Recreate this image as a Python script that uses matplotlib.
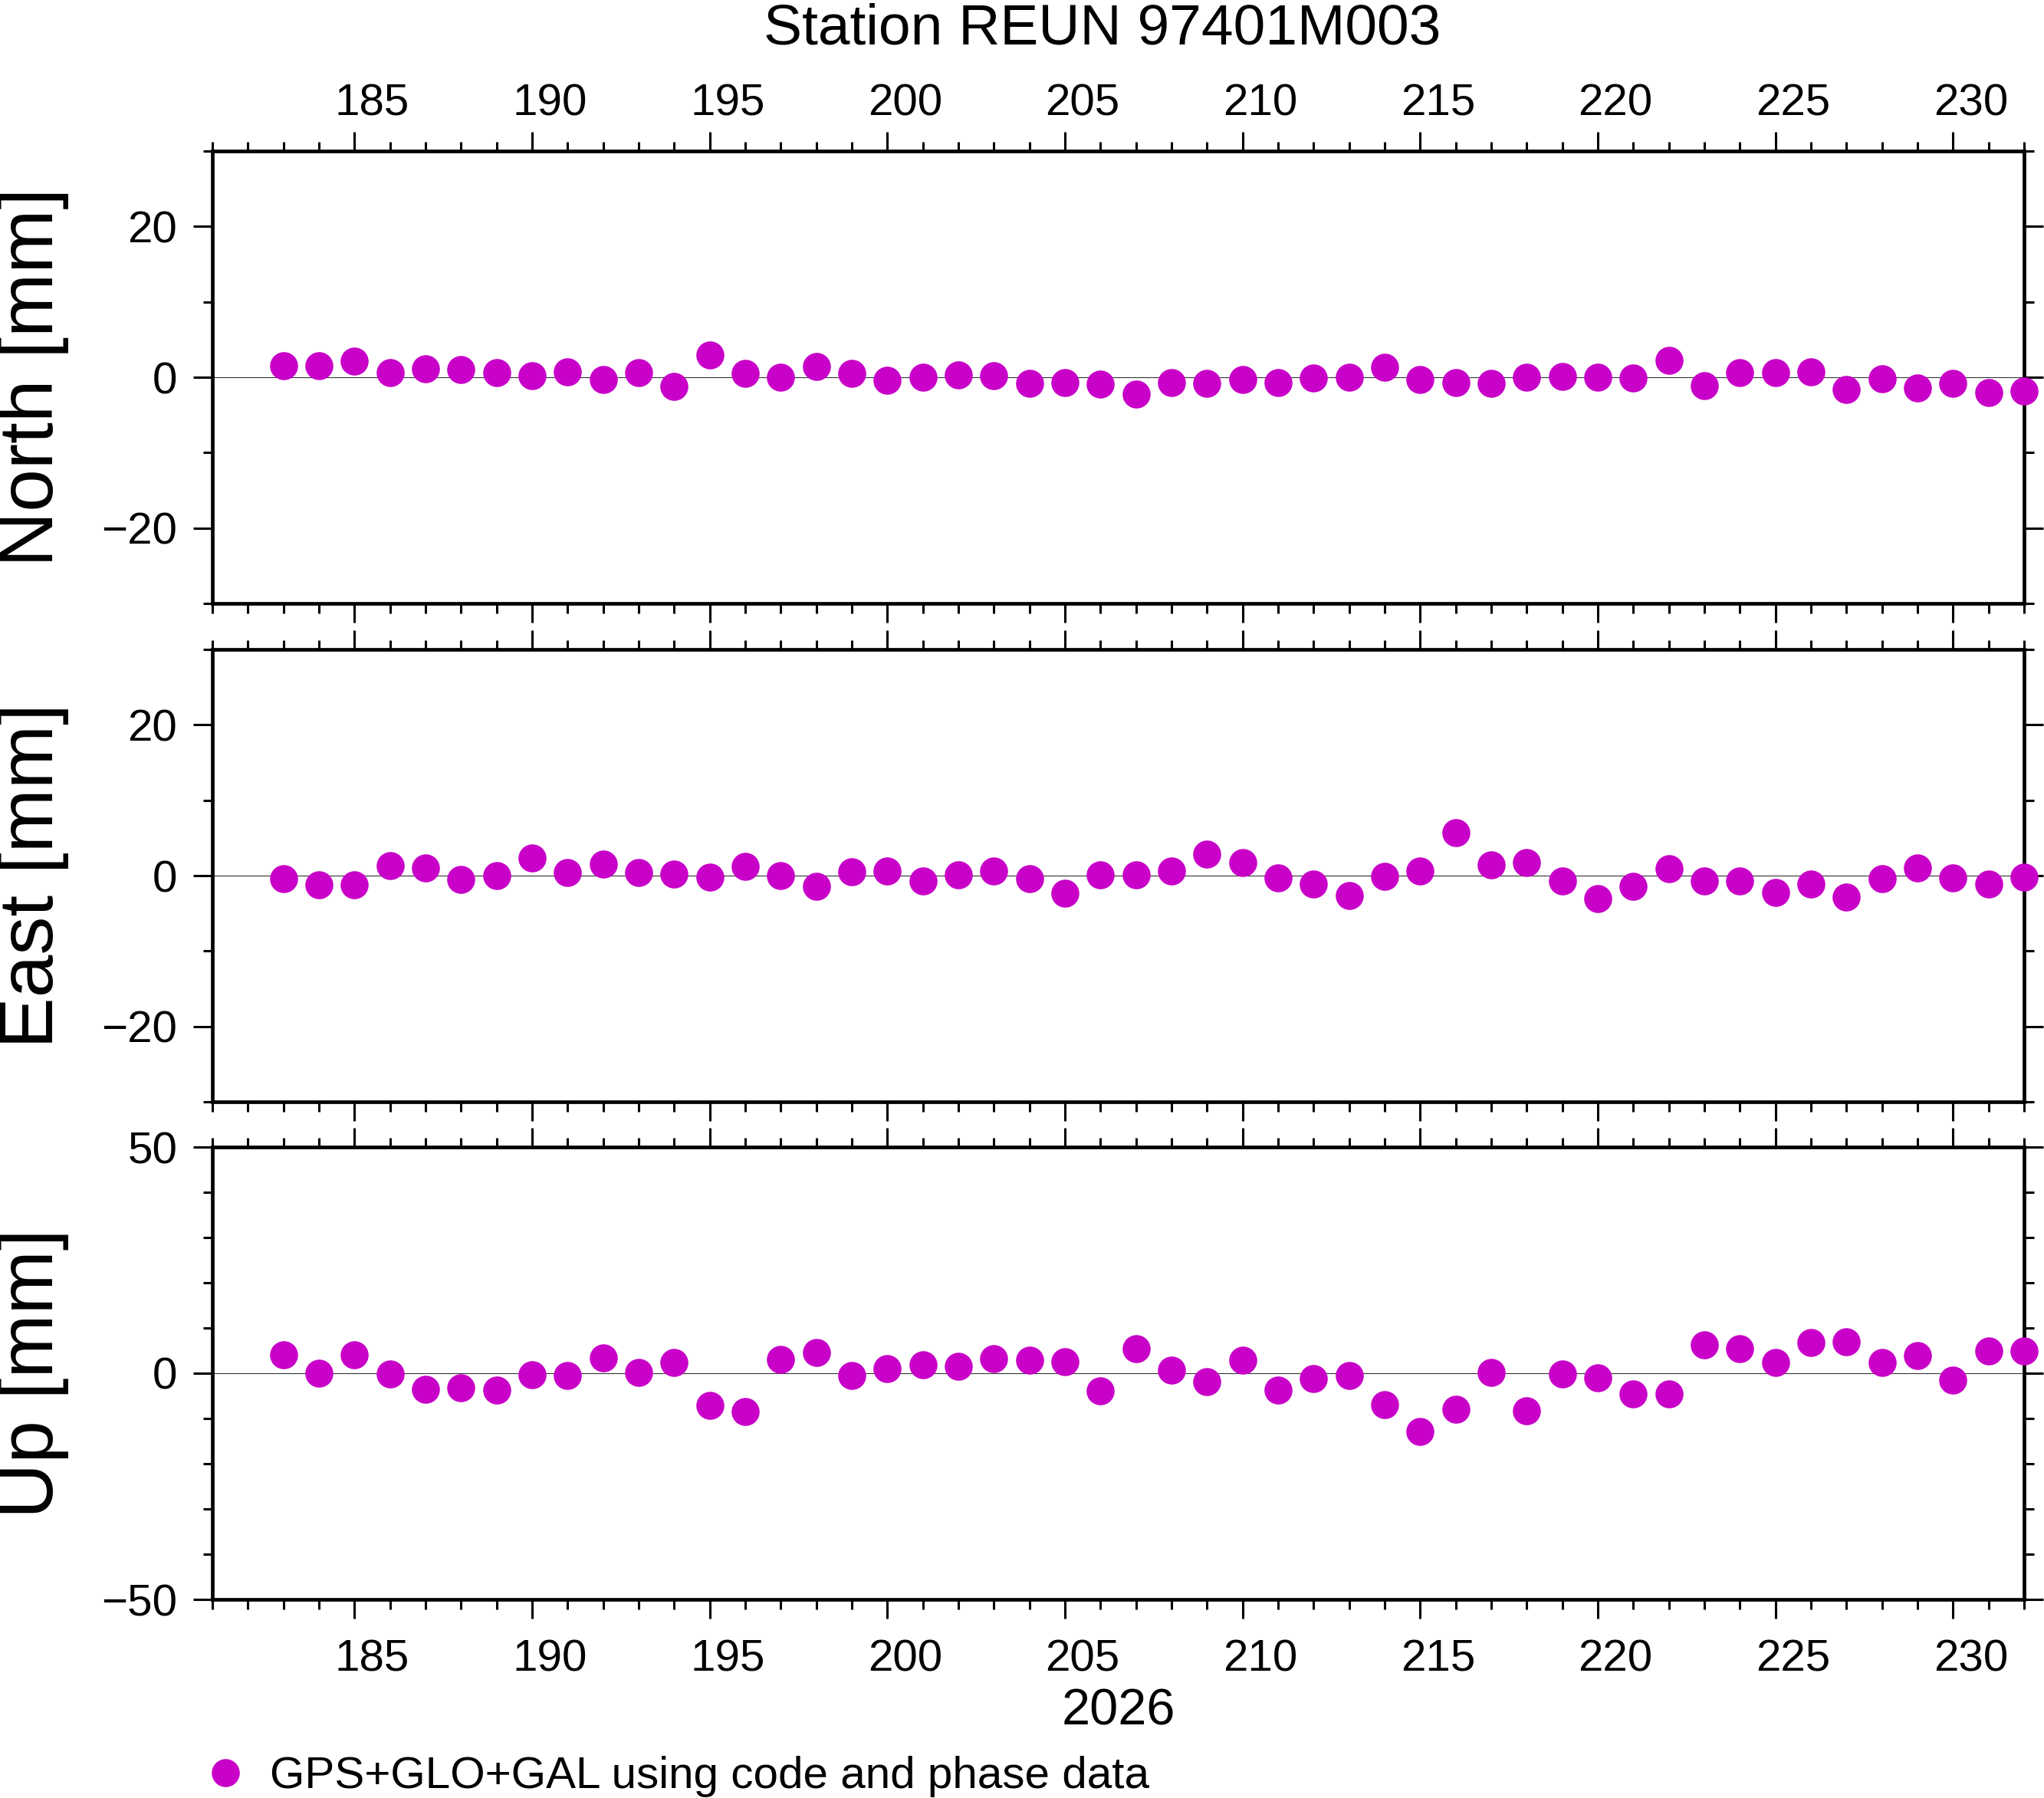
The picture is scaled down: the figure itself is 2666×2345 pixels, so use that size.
import numpy as np
import matplotlib
matplotlib.use("Agg")
import matplotlib.pyplot as plt
from matplotlib.ticker import MultipleLocator
from matplotlib.transforms import ScaledTranslation

plt.rcParams['font.family'] = ['Liberation Sans', 'DejaVu Sans']

# Dia do ano (2026) e residuos diarios em mm
days = [183, 184, 185, 186, 187, 188, 189, 190, 191, 192,
        193, 194, 195, 196, 197, 198, 199, 200, 201, 202,
        203, 204, 205, 206, 207, 208, 209, 210, 211, 212,
        213, 214, 215, 216, 217, 218, 219, 220, 221, 222,
        223, 224, 225, 226, 227, 228, 229, 230, 231, 232]

north = [1.5, 1.5, 2.1, 0.6, 1.1, 1.0, 0.6, 0.2, 0.7, -0.3,
         0.6, -1.2, 2.9, 0.5, 0.0, 1.4, 0.5, -0.4, 0.0, 0.3,
         0.2, -0.8, -0.7, -0.9, -2.2, -0.7, -0.8, -0.3, -0.7, -0.1,
         0.0, 1.3, -0.3, -0.7, -0.8, 0.0, 0.1, 0.0, -0.1, 2.2,
         -1.1, 0.6, 0.6, 0.7, -1.6, -0.2, -1.4, -0.8, -2.0, -1.8]

east = [-0.4, -1.2, -1.2, 1.3, 1.0, -0.5, 0.0, 2.3, 0.4, 1.5,
        0.4, 0.2, -0.2, 1.2, 0.0, -1.4, 0.5, 0.6, -0.7, 0.1,
        0.6, -0.4, -2.3, 0.1, 0.1, 0.6, 2.8, 1.7, -0.3, -1.1,
        -2.6, -0.1, 0.6, 5.7, 1.4, 1.7, -0.7, -3.0, -1.4, 0.9,
        -0.7, -0.7, -2.2, -1.1, -2.8, -0.4, 1.0, -0.3, -1.1, -0.2]

up = [4.0, 0.0, 4.1, -0.2, -3.6, -3.2, -3.8, -0.4, -0.5, 3.4,
      0.2, 2.3, -7.1, -8.4, 3.1, 4.6, -0.5, 1.0, 1.8, 1.5,
      3.2, 2.9, 2.5, -3.9, 5.5, 0.6, -1.9, 2.9, -3.8, -1.2,
      -0.5, -6.9, -12.9, -8.0, 0.1, -8.3, -0.2, -1.0, -4.6, -4.6,
      6.2, 5.5, 2.3, 6.8, 6.9, 2.3, 3.9, -1.6, 4.9, 4.9]

station = "Station REUN 97401M003"
year = "2026"
legend_label = "GPS+GLO+GAL using code and phase data"
color = "#c800c8"

#===============================================================================
W, H = 2666, 2345
fig = plt.figure(figsize=(W / 100, H / 100), dpi=100)

left = 277 / W
width = (2640 - 277) / W
xmin, xmax = 181, 232
panels = [
    ("North [mm]", north, 30, 20, 197, 787),
    ("East [mm]", east, 30, 20, 847, 1437),
    ("Up [mm]", up, 50, 50, 1496, 2086),
]

# rótulos do eixo x ficam no meio do dia (estilo GMT)
half_day = 0.5 * (width * W / 100) / (xmax - xmin)   # em polegadas
shift = ScaledTranslation(half_day, 0, fig.dpi_scale_trans)

axes = []
for i, (label, vals, lim, major, top, bottom) in enumerate(panels):
    ax = fig.add_axes([left, 1 - bottom / H, width, (bottom - top) / H])
    ax.axhline(0, color="#333333", lw=0.8, zorder=1)
    line, = ax.plot(days, vals, "o", ms=26.3, color=color, mec="none",
                    clip_on=False, zorder=5)
    ax.set_xlim(xmin, xmax)
    ax.set_ylim(-lim, lim)
    ax.xaxis.set_major_locator(MultipleLocator(5))
    ax.xaxis.set_minor_locator(MultipleLocator(1))
    ax.yaxis.set_major_locator(MultipleLocator(major))
    ax.yaxis.set_minor_locator(MultipleLocator(10))
    for s in ax.spines.values():
        s.set_linewidth(3.4)
    ax.tick_params(which="both", direction="out", width=2.2,
                   top=True, bottom=True, left=True, right=True,
                   labeltop=(i == 0), labelbottom=(i == 2),
                   labelsize=42)
    ax.tick_params(which="major", length=18)
    ax.tick_params(which="minor", length=9)
    ax.tick_params(axis="y", pad=15)
    ax.tick_params(axis="x", pad=7 if i == 0 else 19)
    for t in ax.xaxis.get_major_ticks():
        t.label1.set_transform(t.label1.get_transform() + shift)
        t.label2.set_transform(t.label2.get_transform() + shift)
    ax.set_ylabel(label, fontsize=72, va="center")
    ax.yaxis.set_label_coords(-0.099, 0.5)
    axes.append(ax)

fig.text(1438 / W, 1 - 58 / H, station, fontsize=54, ha="center", va="baseline")
fig.text(1459 / W, 1 - 2249 / H, year, fontsize=48, ha="center", va="baseline")

fig.legend(handles=[line], labels=[legend_label], loc="center left",
           bbox_to_anchor=(265 / W, 1 - 2317 / H), frameon=False,
           fontsize=42, handlelength=1.0, handletextpad=0.5,
           borderpad=0, borderaxespad=0, markerscale=1.0)

fig.savefig("out.png", dpi=100)
